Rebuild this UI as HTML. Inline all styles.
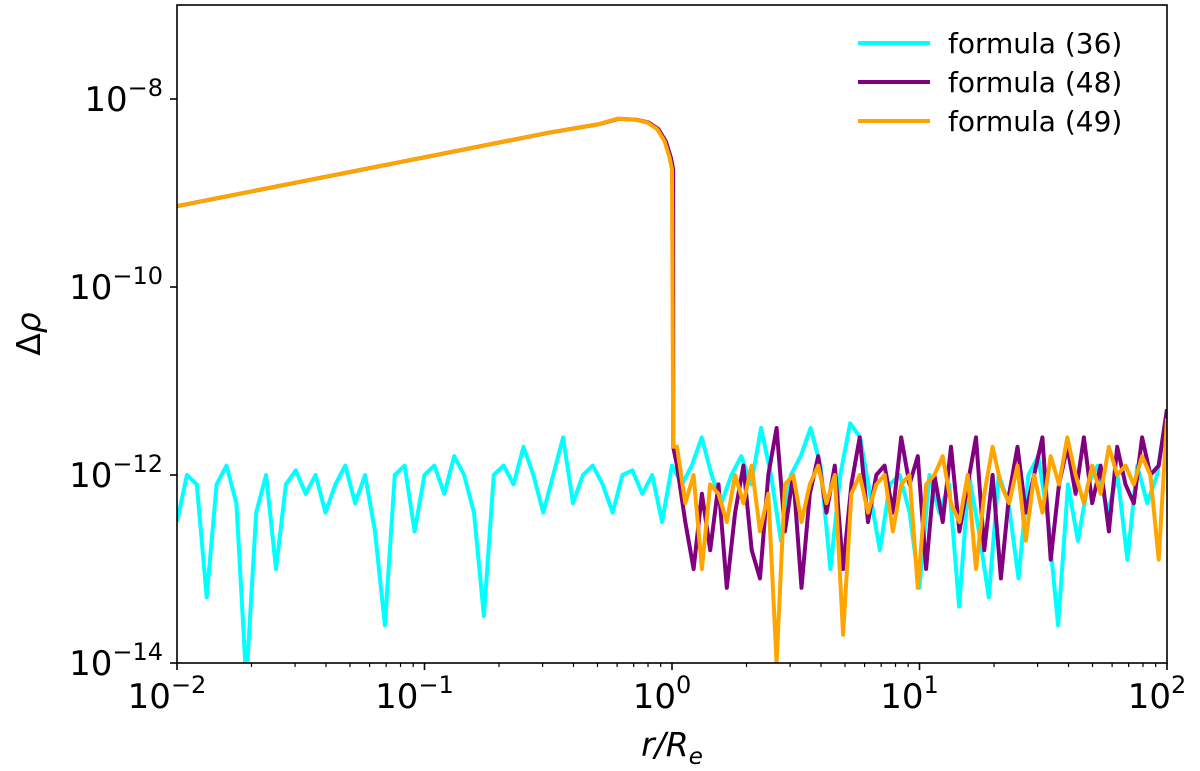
<!DOCTYPE html>
<html><head><meta charset="utf-8"><style>
body{margin:0;background:#fff;}
svg{display:block;font-family:"DejaVu Sans","Liberation Sans",sans-serif;}
</style></head><body>
<svg id="chart" width="1200" height="771" viewBox="0 0 1200 771" xmlns="http://www.w3.org/2000/svg"></svg>
<script>
const xTickExps=[-2,-1,0,1,2];
const yTickExps=[-14,-12,-10,-8];
const smoothX=[-2,-1.5,-1,-0.5,-0.3,-0.22,-0.15,-0.1,-0.06,-0.03,-0.01,0,0.005];
const smoothY=[-9.14,-8.88,-8.62,-8.36,-8.27,-8.21,-8.22,-8.25,-8.32,-8.45,-8.62,-8.75,-11.7];
const cyanY=[-12.5,-12.0,-12.1,-13.3,-12.1,-11.9,-12.3,-14.2,-12.4,-12.0,-13.0,-12.1,-11.95,-12.2,-12.0,-12.4,-12.1,-11.9,-12.3,-12.0,-12.6,-13.6,-12.0,-11.9,-12.6,-12.0,-11.9,-12.2,-11.8,-12.0,-12.4,-13.5,-12.0,-11.9,-12.1,-11.7,-12.0,-12.4,-12.0,-11.6,-12.3,-12.0,-11.9,-12.1,-12.4,-12.0,-11.95,-12.2,-12.0,-12.5,-11.9,-12.1,-11.9,-11.6,-12.0,-12.3,-12.0,-11.8,-12.1,-11.5,-12.0,-12.7,-12.0,-11.8,-11.5,-11.9,-13.0,-12.0,-11.45,-11.6,-12.2,-12.8,-12.1,-12.0,-12.4,-13.2,-12.0,-12.4,-12.1,-13.4,-12.0,-12.6,-13.3,-12.0,-12.3,-13.1,-12.0,-11.8,-12.5,-13.6,-12.1,-12.7,-12.1,-11.9,-12.4,-12.0,-12.9,-11.9,-12.3,-12.0,-11.3];
const purpleY=[-11.9,-12.5,-13.0,-12.2,-12.8,-12.1,-13.2,-12.4,-11.9,-12.8,-13.1,-12.0,-11.5,-12.6,-12.0,-13.2,-12.2,-11.8,-12.4,-11.9,-13.0,-12.1,-11.6,-12.5,-12.0,-11.9,-12.4,-11.6,-12.1,-11.8,-13.0,-12.0,-12.5,-11.7,-12.6,-12.1,-11.6,-12.8,-12.0,-13.1,-12.2,-11.7,-12.4,-12.0,-11.6,-12.9,-12.1,-11.7,-12.2,-11.6,-12.3,-11.9,-12.6,-11.7,-12.1,-12.3,-11.6,-12.0,-11.9,-11.3];
const orangeY=[-11.7,-12.3,-12.0,-13.0,-12.1,-12.2,-12.5,-12.0,-12.3,-11.9,-12.6,-12.2,-14.0,-12.1,-12.0,-12.5,-12.1,-11.9,-12.3,-12.0,-13.7,-12.2,-12.0,-12.4,-12.1,-12.0,-12.6,-12.1,-12.0,-13.2,-12.1,-12.0,-11.8,-12.3,-12.5,-12.0,-13.0,-12.2,-11.7,-12.1,-12.3,-11.9,-12.7,-12.0,-12.4,-11.8,-12.1,-11.6,-12.0,-12.3,-11.9,-12.2,-11.7,-12.0,-11.9,-12.1,-11.8,-12.0,-12.9,-11.4];
const legendLabels=["formula (36)","formula (48)","formula (49)"];
const colors=["#00ffff","#800080","#ffa500"];

const L=177,R=1167,T=5,B=663;
const xs=e=>L+(e+2)/4*(R-L);
const ys=e=>B-(e+14)/(7)*(B-T);
const svg=document.getElementById('chart');
const NS="http://www.w3.org/2000/svg";
function mk(tag,attrs,parent){const el=document.createElementNS(NS,tag);for(const k in attrs)el.setAttribute(k,attrs[k]);(parent||svg).appendChild(el);return el;}
const defs=mk('defs',{});
const cp=mk('clipPath',{id:'clip'},defs);
mk('rect',{x:L,y:T,width:R-L,height:B-T},cp);
const g=mk('g',{'clip-path':'url(#clip)'});


function line(xv,yv,color,name){
  const d=xv.map((x,i)=>(i?'L':'M')+xs(x).toFixed(1)+','+ys(yv[i]).toFixed(1)).join('');
  const p=mk('path',{d:d,fill:'none',stroke:color,'stroke-width':4,'stroke-linejoin':'round'},g);
  
  
}
const cx=cyanY.map((v,i)=>-2+4*i/(cyanY.length-1));
line(cx,cyanY,colors[0],'series-formula-36');
const px=smoothX.concat(purpleY.map((v,i)=>0.02+1.98*i/(purpleY.length-1)));
line(px.map((x,i)=>i<smoothX.length&&x>-0.3&&x<0.005?x+0.005:x),smoothY.concat(purpleY),colors[1],'series-formula-48');
const ox=smoothX.concat(orangeY.map((v,i)=>0.02+1.98*i/(orangeY.length-1)));
line(ox,smoothY.concat(orangeY),colors[2],'series-formula-49');
const fr=mk('rect',{x:L,y:T,width:R-L,height:B-T,fill:'none',stroke:'#000','stroke-width':1.6});


xTickExps.forEach(e=>{
  const x=xs(e);
  const t=mk('line',{x1:x,x2:x,y1:B,y2:B+7,stroke:'#000','stroke-width':1.6});
  
  
  for(let k=2;k<10&&e<2;k++){const xm=xs(e+Math.log10(k));mk('line',{x1:xm,x2:xm,y1:B,y2:B+4,stroke:'#000','stroke-width':1.2});}
  const tx=mk('text',{x:x-10,y:B+45,'font-size':34,'text-anchor':'middle'});
  
  
  tx.innerHTML='10<tspan dy="-15" font-size="24">'+(e<0?'\u2212'+(-e):e)+'</tspan>';
});
yTickExps.forEach(e=>{
  const y=ys(e);
  const t=mk('line',{x1:L-7,x2:L,y1:y,y2:y,stroke:'#000','stroke-width':1.6});
  
  
  const tx=mk('text',{x:L-14,y:y+12,'font-size':34,'text-anchor':'end'});
  
  
  tx.innerHTML='10<tspan dy="-15" font-size="24">\u2212'+(-e)+'</tspan>';
});
const xl=mk('text',{x:(L+R)/2,y:756,'font-size':33,'text-anchor':'middle','font-style':'italic'});


xl.innerHTML='r/R<tspan dy="8" font-size="23">e</tspan>';
const yl=mk('text',{x:40,y:334,'font-size':33,'text-anchor':'middle',transform:'rotate(-90 40 334)'});


yl.innerHTML='\u0394<tspan font-style="italic">\u03c1</tspan>';
legendLabels.forEach((lab,i)=>{
  const y=53+i*39;
  const lg=mk('g',{});
  
  
  mk('line',{x1:858,x2:930,y1:y-10,y2:y-10,stroke:colors[i],'stroke-width':4},lg);
  const t=mk('text',{x:948,y:y,'font-size':28},lg);
  t.textContent=lab;
});
</script>
</body></html>
